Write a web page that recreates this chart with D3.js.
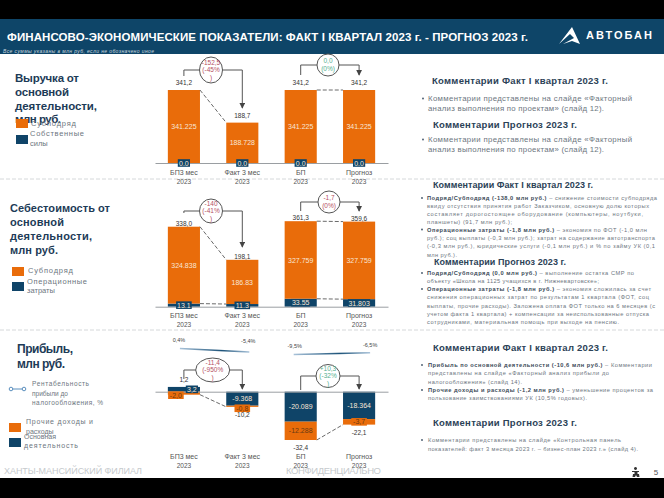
<!DOCTYPE html>
<html lang="ru">
<head>
<meta charset="utf-8">
<script src="https://cdn.jsdelivr.net/npm/d3@7"></script>
<style>
  html, body { margin: 0; padding: 0; background: #000; }
  svg { display: block; }
  text { font-family: "Liberation Sans", "Open Sans", sans-serif; }
</style>
</head>
<body>
<div id="chart"></div>
<script>
const categories = ["БП3 мес", "Факт 3 мес", "БП", "Прогноз"];
const years = ["2023", "2023", "2023", "2023"];

// Выручка
const revenueSub = [341.225, 188.728, 341.225, 341.225];
const revenueOwn = [0, 0, 0, 0];
const revenueTotals = ["341,2", "188,7", "341,2", "341,2"];

// Себестоимость
const costSub = [324.838, 186.83, 327.759, 327.759];
const costOps = [13.1, 11.3, 33.55, 31.803];
const costTotals = ["338,0", "198,1", "361,3", "359,6"];

// Прибыль
const profitMain = [3.2, -9.368, -20.089, -18.364];
const profitOther = [-2.0, -0.8, -12.288, -3.7];
const profitTotals = ["1,2", "-10,2", "-32,4", "-22,1"];
const profitRate = [0.4, -5.4, -9.5, -6.5];
const profitRateLabels = ["0,4%", "-5,4%", "-9,5%", "-6,5%"];

const width = 664;
const height = 498;
const orange = "#e96c0a";
const blue = "#0f4468";
const titleColor = "#1d3b57";
const greyText = "#6d7680";

const svg = d3.select("#chart").append("svg")
  .attr("width", width)
  .attr("height", height)
  .attr("viewBox", [0, 0, width, height]);

svg.append("rect").attr("width", width).attr("height", height).attr("fill", "#000");
svg.append("rect").attr("y", 19).attr("width", width).attr("height", 459).attr("fill", "#fff");
svg.append("rect").attr("y", 19).attr("width", width).attr("height", 35).attr("fill", "#0e4568");

const defs = svg.append("defs");
defs.append("marker")
  .attr("id", "arrow")
  .attr("viewBox", "0 0 8 8")
  .attr("refX", 7).attr("refY", 4)
  .attr("markerWidth", 6).attr("markerHeight", 6)
  .attr("orient", "auto")
  .append("path")
  .attr("d", "M0,0L8,4L0,8Z")
  .attr("fill", "#444");

function label(x, y, str, opts = {}) {
  const t = svg.append("text")
    .attr("x", x)
    .attr("y", y)
    .attr("font-size", opts.size || 7)
    .attr("fill", opts.color || greyText)
    .attr("font-weight", opts.bold ? "bold" : null)
    .attr("font-style", opts.italic ? "italic" : null)
    .attr("text-anchor", opts.anchor || "start")
    .text(str);
  if (opts.len) t.attr("textLength", opts.len).attr("lengthAdjust", "spacing");
  return t;
}

// header
label(7, 41, "ФИНАНСОВО-ЭКОНОМИЧЕСКИЕ ПОКАЗАТЕЛИ: ФАКТ I КВАРТАЛ 2023 г. - ПРОГНОЗ 2023 г.", { size: 11.5, bold: true, color: "#fff", len: 521 });
label(3, 53, "Все суммы указаны в млн руб, если не обозначено иное", { size: 5, italic: true, color: "#c9d6df", len: 151 });
svg.append("path").attr("d", "M572,27L580,44L572,41L563,44L574,38L570,34L559,44Z").attr("fill", "#fff");
label(586, 39, "АВТОБАН", { size: 11, bold: true, color: "#fff", len: 66 });

// separators
[179, 330].forEach(y => {
  svg.append("line")
    .attr("x1", 0).attr("x2", width).attr("y1", y).attr("y2", y)
    .attr("stroke", "#d5d8da").attr("stroke-dasharray", "4,2");
});

const x = d3.scaleBand()
  .domain(categories)
  .range([155, 388])
  .paddingInner(0.45)
  .paddingOuter(0.22);

function drawBars(cfg) {
  const rows = categories.map((c, i) => ({
    cat: c,
    first: cfg.first[i],
    second: cfg.second[i]
  }));
  const series = d3.stack()
    .keys(["first", "second"])
    .offset(d3.stackOffsetDiverging)(rows);

  const y = d3.scaleLinear()
    .domain(cfg.domain)
    .range(cfg.range);

  const colors = [cfg.firstColor, cfg.secondColor];

  svg.append("g").selectAll("g")
    .data(series)
    .join("g")
    .attr("fill", (d, i) => colors[i])
    .selectAll("rect")
    .data(d => d)
    .join("rect")
    .attr("x", d => x(d.data.cat))
    .attr("y", d => y(Math.max(d[0], d[1])))
    .attr("width", x.bandwidth())
    .attr("height", d => Math.abs(y(d[0]) - y(d[1])));

  // baseline
  svg.append("g")
    .attr("transform", `translate(0,${y(0)})`)
    .call(d3.axisBottom(x).tickSize(0).tickFormat(""))
    .call(a => a.select(".domain").attr("stroke", "#9a9ea2").attr("stroke-width", 1));

  // dashed links between neighbouring bars
  const link = (i, yA, yB) => {
    svg.append("line")
      .attr("x1", x(categories[i]) + x.bandwidth())
      .attr("x2", x(categories[i + 1]))
      .attr("y1", yA).attr("y2", yB)
      .attr("stroke", "#444")
      .attr("stroke-dasharray", "4,2")
      .attr("stroke-width", 0.8);
  };
  [0, 2].forEach(i => {
    cfg.linkSeries.forEach(s => {
      const edge = d => (d[1] > 0 ? d[1] : d[0]);
      link(i, y(edge(series[s][i])), y(edge(series[s][i + 1])));
    });
  });

  // segment values
  series.forEach((s, si) => {
    s.forEach((d, i) => {
      const v = si === 0 ? cfg.first[i] : cfg.second[i];
      const cx = x(d.data.cat) + x.bandwidth() / 2;
      const h = Math.abs(y(d[0]) - y(d[1]));
      const small = h < 10;
      const off = small && cfg.smallOffset ? cfg.smallOffset(si, i) : [0, 0];
      const cy = (y(d[0]) + y(d[1])) / 2 + off[1];
      const px = cx + off[0];
      const txt = cfg.format ? cfg.format(v) : String(v);
      if (small) {
        const w = Math.max(12, txt.length * 3.4 + 2);
        svg.append("rect")
          .attr("x", px - w / 2).attr("y", cy - 3.8)
          .attr("width", w).attr("height", 7.6)
          .attr("fill", colors[si]);
      }
      const dark = cfg.darkOnOrange && si === 1;
      label(px, cy + 2.6, txt, { size: 7, color: dark ? "#6a3a12" : "#f8e6d6", anchor: "middle" });
    });
  });

  // totals and category labels
  cfg.totals.forEach((t, i) => {
    const cx = x(categories[i]) + x.bandwidth() / 2;
    const pos = series.map(s => s[i]);
    const top = d3.min(pos, d => y(Math.max(d[0], d[1])));
    const bottom = d3.max(pos, d => y(Math.min(d[0], d[1])));
    const ty = t.startsWith("-") ? bottom + 10 : top - cfg.totalGap;
    label(cx, ty, t, { size: 6.5, color: "#333", anchor: "middle" });
    label(cx, cfg.catY, categories[i], { size: 7, color: "#555", anchor: "middle" });
    label(cx, cfg.catY + 9, years[i], { size: 6.5, color: "#555", anchor: "middle" });
  });
  return y;
}

function delta(i, lines, color, c) {
  const x1 = x(categories[i]) + x.bandwidth() / 2;
  const x2 = x(categories[i + 1]) + x.bandwidth() / 2;
  svg.append("path")
    .attr("d", d3.line()([[x1, c.from], [x1, c.cy], [x2, c.cy], [x2, c.to]]))
    .attr("fill", "none")
    .attr("stroke", "#555")
    .attr("stroke-width", 1)
    .attr("marker-end", "url(#arrow)");
  svg.append("ellipse")
    .attr("cx", c.cx).attr("cy", c.cy)
    .attr("rx", c.rx).attr("ry", c.ry)
    .attr("fill", "#fff").attr("stroke", "#555");
  lines.forEach((l, k) => {
    label(c.cx, c.cy + (k - (lines.length - 1) / 2) * 7.5 + 2, l, { size: 6.5, color, anchor: "middle" });
  });
}

const red = "#b5505f";
const green = "#55b08f";

// chart 1
drawBars({
  first: revenueOwn, second: revenueSub, totals: revenueTotals,
  firstColor: blue, secondColor: orange,
  domain: [0, 341.225], range: [163, 90],
  totalGap: 5, catY: 175, linkSeries: [1],
  format: v => (v === 0 ? "0.0" : String(v))
});
delta(0, ["-152,5", "(-45%", ")"], red, { from: 76, to: 108, cx: 211, cy: 70, rx: 11.5, ry: 13 });
delta(2, ["0,0", "(0%)"], green, { from: 75, to: 75, cx: 328, cy: 65, rx: 11, ry: 11 });

// chart 2
drawBars({
  first: costOps, second: costSub, totals: costTotals,
  firstColor: blue, secondColor: orange,
  domain: [0, 338], range: [306.7, 226.7],
  totalGap: 1, catY: 318, linkSeries: [0, 1]
});
delta(0, ["-140", "(-41%", ")"], red, { from: 213, to: 247, cx: 211, cy: 211, rx: 11.5, ry: 12 });
delta(2, ["-1,7", "(0%)"], red, { from: 211, to: 211, cx: 329, cy: 202, rx: 11, ry: 11 });

// chart 3
const profitFmt = v => (v === -0.8 ? "-0,8" : v === -2 ? "-2,0" : v === 3.2 ? "3,2" : v === -3.7 ? "-3,7" : String(v));
drawBars({
  first: profitMain, second: profitOther, totals: profitTotals,
  firstColor: blue, secondColor: orange,
  domain: [0, -32.377], range: [391.7, 440],
  totalGap: 5, catY: 459, linkSeries: [1],
  format: profitFmt, darkOnOrange: true,
  smallOffset: (si, i) => (i === 0 ? (si === 0 ? [8, 0] : [-8, 2]) : (i === 1 && si === 1 ? [0, 2] : [0, 0]))
});
delta(0, ["-11,4", "(-950%", ")"], red, { from: 379, to: 389, cx: 212.7, cy: 370, rx: 17, ry: 12 });
delta(2, ["+10,3", "(-32%", ")"], green, { from: 390, to: 389, cx: 328, cy: 376, rx: 12, ry: 11.5 });

// rentability line above chart 3
const yRate = d3.scaleLinear().domain([0.4, -9.5]).range([348.5, 354.5]);
const xRate = i => x(categories[i]) + x.bandwidth() / 2;
const rateOffsets = [[-5, -7], [6, -9], [-6, -6.5], [11, -6]];
[0, 2].forEach(i => {
  const gid = "rate" + i;
  const ends = i === 0 ? [-4, 7] : [-7, 11];
  const grad = defs.append("linearGradient")
    .attr("id", gid)
    .attr("gradientUnits", "userSpaceOnUse")
    .attr("x1", xRate(i) + ends[0]).attr("x2", xRate(i + 1) + ends[1])
    .attr("y1", 0).attr("y2", 0);
  grad.append("stop").attr("offset", "0%").attr("stop-color", "#a9c3da");
  grad.append("stop").attr("offset", "60%").attr("stop-color", "#1d5379");
  grad.append("stop").attr("offset", "100%").attr("stop-color", "#a9c3da");
  svg.append("line")
    .attr("x1", xRate(i) + ends[0]).attr("x2", xRate(i + 1) + ends[1])
    .attr("y1", yRate(profitRate[i])).attr("y2", yRate(profitRate[i + 1]))
    .attr("stroke", `url(#${gid})`).attr("stroke-width", 1.6);
});
profitRateLabels.forEach((t, i) => {
  label(xRate(i) + rateOffsets[i][0], yRate(profitRate[i]) + rateOffsets[i][1], t, { size: 5.5, color: "#444", anchor: "middle" });
});

// left titles
const titleOpts = { size: 11.5, bold: true, color: titleColor };
[["Выручка от", 82, 64], ["основной", 96, 54], ["деятельности,", 110, 82], ["млн руб.", 123, 46]].forEach(d => {
  label(15, d[1], d[0], { ...titleOpts, len: d[2] });
});
[["Себестоимость от", 212, 100], ["основной", 226, 54], ["деятельности,", 240, 82], ["млн руб.", 254, 48]].forEach(d => {
  label(10, d[1], d[0], { ...titleOpts, size: 11, len: d[2] });
});
[["Прибыль,", 353, 56], ["млн руб.", 368, 48]].forEach(d => {
  label(17, d[1], d[0], { ...titleOpts, size: 12, len: d[2] });
});

// legends
function swatch(xp, yp, color) {
  svg.append("rect").attr("x", xp).attr("y", yp).attr("width", 12).attr("height", 9).attr("fill", color);
}
swatch(16, 119, orange);
label(31, 126, "Субподряд", { size: 7.5, len: 45 });
swatch(16, 135, blue);
label(30, 136, "Собственные", { size: 7.5, len: 54 });
label(30, 146, "силы", { size: 7.5 });

swatch(12, 267, orange);
label(28, 273, "Субподряд", { size: 7.5, len: 45 });
swatch(12, 282, blue);
label(27, 284, "Операционные", { size: 7.5, len: 60 });
label(27, 293, "затраты", { size: 7.5 });

svg.append("line").attr("x1", 10).attr("x2", 25).attr("y1", 389).attr("y2", 389).attr("stroke", "#5b8fbe");
[11, 24].forEach(cx => {
  svg.append("circle").attr("cx", cx).attr("cy", 389).attr("r", 1.8).attr("fill", "#fff").attr("stroke", "#5b8fbe");
});
label(32, 386, "Рентабельность", { size: 6.5, len: 57 });
label(32, 396, "прибыли до", { size: 6.5 });
label(32, 405, "налогообложения, %", { size: 6.5, len: 71 });

swatch(9, 423, orange);
label(26, 424, "Прочие доходы и", { size: 7, len: 67 });
label(26, 434, "расходы", { size: 7 });
swatch(9, 438, blue);
label(24, 439, "Основная", { size: 7 });
label(24, 448, "деятельность", { size: 7, len: 54 });

// right column
const headOpts = { size: 9.5, bold: true, color: "#2c4257" };
label(432, 84, "Комментарии Факт I квартал 2023 г.", { ...headOpts, len: 176 });
label(433, 128, "Комментарии Прогноз 2023 г.", { ...headOpts, len: 144 });
label(433, 188, "Комментарии Факт I квартал 2023 г.", { ...headOpts, size: 9, len: 160 });
label(434, 265, "Комментарии Прогноз 2023 г.", { ...headOpts, size: 9, len: 132 });
label(433, 351, "Комментарии Факт I квартал 2023 г.", { ...headOpts, len: 175 });
label(433, 426, "Комментарии Прогноз 2023 г.", { ...headOpts, len: 144 });

function para(xp, lines, size, bulletX) {
  lines.forEach(l => {
    const t = label(xp, l.y, "", { size, len: l.len });
    if (l.bold) t.append("tspan").attr("font-weight", "bold").attr("fill", "#3b4a58").text(l.bold);
    t.append("tspan").text(l.text);
    if (l.bullet) {
      svg.append("circle").attr("cx", bulletX).attr("cy", l.y - 2).attr("r", 0.9).attr("fill", "#405468");
    }
  });
}

para(428, [
  { y: 100.5, text: "Комментарии представлены на слайде «Факторный", len: 204, bullet: true },
  { y: 110.5, text: "анализ выполнения по проектам» (слайд 12).", len: 176 },
  { y: 141.5, text: "Комментарии представлены на слайде «Факторный", len: 204, bullet: true },
  { y: 151.5, text: "анализ выполнения по проектам» (слайд 12).", len: 176 }
], 7.8, 423);

para(427, [
  { y: 200, bold: "Подряд/Субподряд (-138,0 млн руб.)", text: " – снижение стоимости субподряда", len: 230, bullet: true },
  { y: 207.5, text: "ввиду отсутствия принятия работ Заказчиком, основную долю которых", len: 222 },
  { y: 215.5, text: "составляет дорогостоящее оборудование (компьютеры, ноутбуки,", len: 216 },
  { y: 223.5, text: "планшеты) (91,7 млн руб.);", len: 85 },
  { y: 231.5, bold: "Операционные затраты (-1,8 млн руб.)", text: " – экономия по ФОТ (-1,0 млн", len: 220, bullet: true },
  { y: 240, text: "руб.); соц выплаты (-0,3 млн руб.); затрат на содержание автотранспорта", len: 228 },
  { y: 248, text: "(-0,3 млн руб.), юридические услуги (-0,1 млн руб.) и % по займу УК (0,1", len: 228 },
  { y: 257, text: "млн руб.).", len: 30 },
  { y: 275, bold: "Подряд/Субподряд (0,0 млн руб.)", text: " – выполнение остатка СМР по", len: 207, bullet: true },
  { y: 283, text: "объекту «Школа на 1125 учащихся в г. Нижневартовске»;", len: 172 },
  { y: 291, bold: "Операционные затраты (-1,8 млн руб.)", text: " – экономия сложилась за счет", len: 224, bullet: true },
  { y: 299, text: "снижения операционных затрат по результатам 1 квартала (ФОТ, соц", len: 222 },
  { y: 308, text: "выплаты, прочие расходы). Заложена оплата ФОТ только на 6 месяцев (с", len: 228 },
  { y: 316, text: "учетом факта 1 квартала) + компенсации за неиспользованные отпуска", len: 222 },
  { y: 324, text: "сотрудниками, материальная помощь при выходе на пенсию.", len: 192 }
], 5.7, 422);

para(428, [
  { y: 367, bold: "Прибыль по основной деятельности (-10,6 млн руб.)", text: " – Комментарии", len: 224, bullet: true },
  { y: 375, text: "представлены на слайде «Факторный анализ прибыли до", len: 181 },
  { y: 383.5, text: "налогообложения» (слайд 14).", len: 94 },
  { y: 392, bold: "Прочие доходы и расходы (-1,2 млн руб.)", text: " – уменьшение процентов за", len: 225, bullet: true },
  { y: 400, text: "пользование заимствованиями УК (10,5% годовых).", len: 159 },
  { y: 442, text: "Комментарии представлены на слайде «Контрольная панель", len: 193, bullet: true },
  { y: 451, text: "показателей: факт 3 месяца 2023 г. – бизнес-план 2023 г.» (слайд 4).", len: 210 }
], 5.7, 422);

// footer
label(4, 474, "ХАНТЫ-МАНСИЙСКИЙ ФИЛИАЛ", { size: 9, color: "#c6cacd", len: 138 });
label(286, 474, "КОНФИДЕНЦИАЛЬНО", { size: 9.5, color: "#c6cacd", len: 95 });
label(656, 475, "5", { size: 8, color: "#555", anchor: "middle" });
svg.append("path").attr("d", "M635.5,467a1.5,1.5 0 1,0 .01,0M632,471h7v1h-1.5v2h1.5l.5,3h-2.5l-1,-2l-1,2h-2.5l.5,-3h1.5v-2h-2.5z").attr("fill", "#333");
</script>
</body>
</html>
